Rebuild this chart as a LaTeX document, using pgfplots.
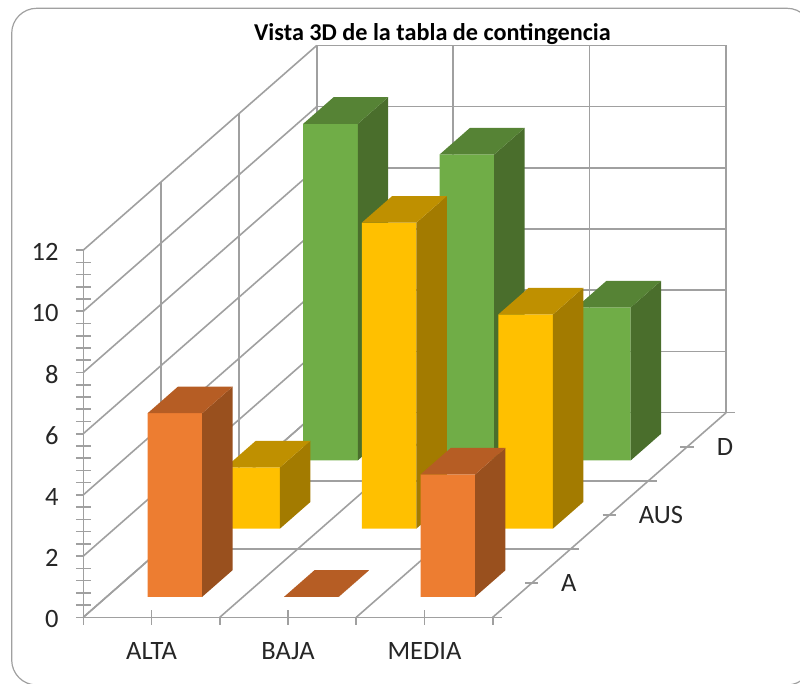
\documentclass[border=0pt]{standalone}
\usepackage{fontspec}
\setmainfont{Carlito}
\usepackage{pgfplots}
\pgfplotsset{compat=1.18}

\definecolor{gridgray}{HTML}{A0A0A0}
\definecolor{framegray}{HTML}{A0A0A0}
\definecolor{labeltext}{HTML}{262626}
\definecolor{orangeF}{HTML}{ED7D31}
\definecolor{orangeT}{HTML}{B65D24}
\definecolor{orangeS}{HTML}{99501E}
\definecolor{yellowF}{HTML}{FFC000}
\definecolor{yellowT}{HTML}{BF9000}
\definecolor{yellowS}{HTML}{A37B00}
\definecolor{greenF}{HTML}{70AD47}
\definecolor{greenT}{HTML}{568335}
\definecolor{greenS}{HTML}{4A6E2C}

% straight line segment in axis coordinates
\newcommand{\seg}[6]{\addplot3[gridgray, line width=1.6pt, no marks, forget plot] coordinates {(#1,#2,#3)(#4,#5,#6)};}
% one box: x from #1 to #2, depth from #3 to #4, height #5, colour family #6
\newcommand{\bardd}[6]{%
  \addplot3[fill=#6F, draw=none, no marks, forget plot] coordinates {(#1,#3,0)(#2,#3,0)(#2,#3,#5)(#1,#3,#5)(#1,#3,0)};
  \addplot3[fill=#6S, draw=none, no marks, forget plot] coordinates {(#2,#3,0)(#2,#4,0)(#2,#4,#5)(#2,#3,#5)(#2,#3,0)};
  \addplot3[fill=#6T, draw=none, no marks, forget plot] coordinates {(#1,#3,#5)(#2,#3,#5)(#2,#4,#5)(#1,#4,#5)(#1,#3,#5)};
}
\newcommand{\lab}{\fontsize{26.5}{28}\selectfont}

\begin{document}
\begin{tikzpicture}[x=1pt,y=1pt]
\useasboundingbox (0,0) rectangle (800,683);
\begin{scope}
  \clip (0,0) rectangle (800,683);
  \draw[framegray, line width=1.2pt, rounded corners=25pt] (11.7,-2) rectangle (812,674.7);
\end{scope}
\begin{axis}[
  at={(83.3pt,65.7pt)}, anchor=origin,
  x={(136.47pt,0pt)}, y={(77.8pt,68.2pt)}, z={(0pt,30.6pt)},
  xmin=0, xmax=3, ymin=0, ymax=3, zmin=0, zmax=12,
  hide axis, clip=false,
]
% side wall and back wall: value lines
\pgfplotsinvokeforeach{0,2,4,6,8,10,12}{
  \seg{0}{0}{#1}{0}{3}{#1}
  \seg{0}{3}{#1}{3}{3}{#1}
}
% wall uprights
\pgfplotsinvokeforeach{0,1,2,3}{
  \seg{0}{#1}{0}{0}{#1}{12}
  \seg{#1}{3}{0}{#1}{3}{12}
}
% floor
\pgfplotsinvokeforeach{0,1,2,3}{
  \seg{#1}{0}{0}{#1}{3}{0}
  \seg{0}{#1}{0}{3}{#1}{0}
}
% value axis ticks
\pgfplotsinvokeforeach{0,2,4,6,8,10,12}{
  \seg{-0.055}{0}{#1}{0}{0}{#1}
}
\pgfplotsinvokeforeach{0.4,0.8,1.2,1.6,2.4,2.8,3.2,3.6,4.4,4.8,5.2,5.6,6.4,6.8,7.2,7.6,8.4,8.8,9.2,9.6,10.4,10.8,11.2,11.6}{
  \seg{-0.055}{0}{#1}{0.055}{0}{#1}
}
% category axis ticks
\pgfplotsinvokeforeach{0,1,2,3}{
  \seg{#1}{0}{0}{#1}{0}{-0.26}
  \seg{3}{#1}{0}{3.065}{#1}{0}
}
\pgfplotsinvokeforeach{0.5,1.5,2.5}{
  \seg{#1}{0}{0.23}{#1}{0}{-0.26}
  \seg{2.95}{#1}{0}{3.05}{#1}{0}
}

% series D, back row
\bardd{0.3}{0.7}{2.3}{2.69}{11}{green}
\bardd{1.3}{1.7}{2.3}{2.69}{10}{green}
\bardd{2.3}{2.7}{2.3}{2.69}{5}{green}
% series AUS, middle row
\bardd{0.3}{0.7}{1.3}{1.69}{2}{yellow}
\bardd{1.3}{1.7}{1.3}{1.69}{10}{yellow}
\bardd{2.3}{2.7}{1.3}{1.69}{7}{yellow}
% series A, front row
\bardd{0.3}{0.7}{0.3}{0.69}{6}{orange}
\bardd{1.3}{1.7}{0.3}{0.69}{0}{orange}
\bardd{2.3}{2.7}{0.3}{0.69}{4}{orange}

% value labels
\pgfplotsinvokeforeach{0,2,4,6,8,10,12}{
  \node[anchor=east, text=labeltext, font=\lab, inner sep=0pt] at (axis cs:-0.18,0,#1-0.07) {#1};
}
% category labels
\node[text=labeltext, font=\lab, inner sep=0pt] at (axis cs:0.5,0,-1.1) {ALTA};
\node[text=labeltext, font=\lab, inner sep=0pt] at (axis cs:1.5,0,-1.1) {BAJA};
\node[text=labeltext, font=\lab, inner sep=0pt] at (axis cs:2.5,0,-1.1) {MEDIA};
% series labels
\node[anchor=west, text=labeltext, font=\lab, inner sep=0pt] at (axis cs:3.215,0.5,0) {A};
\node[anchor=west, text=labeltext, font=\lab, inner sep=0pt] at (axis cs:3.215,1.5,0) {AUS};
\node[anchor=west, text=labeltext, font=\lab, inner sep=0pt] at (axis cs:3.215,2.5,0) {D};
\end{axis}
\node[font=\fontsize{24.2}{26}\selectfont\bfseries, text=black, inner sep=0pt] at (432.5,648.5) {Vista 3D de la tabla de contingencia};
\end{tikzpicture}
\end{document}
